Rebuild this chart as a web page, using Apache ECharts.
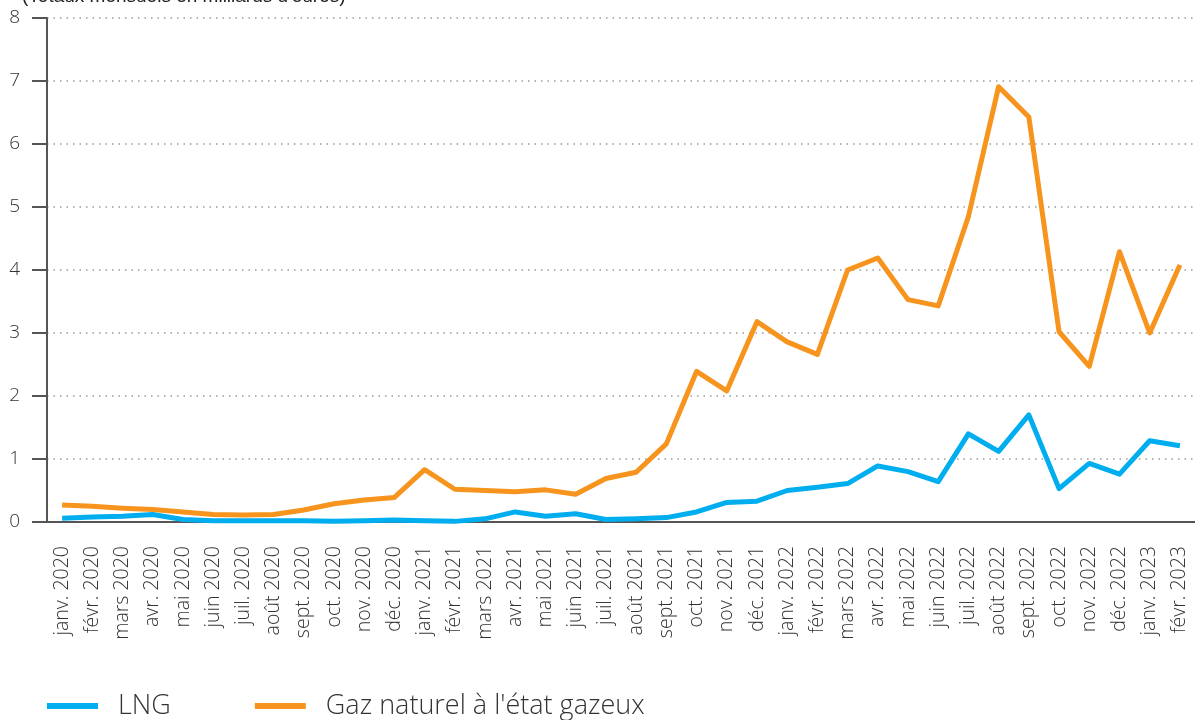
<!DOCTYPE html>
<html>
<head>
<meta charset="utf-8">
<script src="https://cdn.jsdelivr.net/npm/echarts@6/dist/echarts.min.js"></script>
<style>
html,body{margin:0;padding:0;background:#fff;}
#chart{width:1195px;height:720px;}
</style>
</head>
<body>
<div id="chart"></div>
<script>
const categories = ["janv. 2020","févr. 2020","mars 2020","avr. 2020","mai 2020","juin 2020","juil. 2020","août 2020","sept. 2020","oct. 2020","nov. 2020","déc. 2020",
"janv. 2021","févr. 2021","mars 2021","avr. 2021","mai 2021","juin 2021","juil. 2021","août 2021","sept. 2021","oct. 2021","nov. 2021","déc. 2021",
"janv. 2022","févr. 2022","mars 2022","avr. 2022","mai 2022","juin 2022","juil. 2022","août 2022","sept. 2022","oct. 2022","nov. 2022","déc. 2022",
"janv. 2023","févr. 2023"];
const lng = [0.06,0.08,0.09,0.12,0.04,0.02,0.02,0.02,0.02,0.01,0.02,0.03,
0.02,0.01,0.05,0.16,0.09,0.13,0.04,0.05,0.07,0.16,0.31,0.33,
0.50,0.55,0.61,0.89,0.80,0.64,1.40,1.12,1.70,0.53,0.93,0.76,
1.29,1.21];
const gaz = [0.27,0.25,0.22,0.20,0.16,0.12,0.11,0.12,0.19,0.29,0.35,0.39,
0.83,0.52,0.50,0.48,0.51,0.44,0.69,0.79,1.24,2.39,2.08,3.18,
2.86,2.66,4.00,4.19,3.53,3.43,4.85,6.91,6.43,3.02,2.47,4.29,
3.00,4.08];
const seriesNames = ["LNG","Gaz naturel à l'état gazeux"];
const unitLabel = "(Totaux mensuels en milliards d'euros)";
const FONT = "'Open Sans', sans-serif";

const chart = echarts.init(document.getElementById('chart'));
chart.setOption({
  animation:false,
  backgroundColor:'#fff',
  graphic:[{
    type:'text', left:22, top:-13,
    style:{text:unitLabel, fontSize:19, fontFamily:"'Liberation Sans', Arial, sans-serif", fill:'#222'}
  }],
  legend:{
    left:42, top:686, itemWidth:51, itemHeight:6, itemGap:84, icon:'rect',
    textStyle:{fontSize:27, lineHeight:30, color:'#333', fontFamily:FONT, fontWeight:300, padding:[0,0,0,15]},
    data:seriesNames
  },
  grid:{left:47, right:-4, top:18, bottom:198, containLabel:false},
  xAxis:{
    type:'category', data:categories, boundaryGap:true,
    axisLine:{lineStyle:{color:'#555', width:2}},
    axisTick:{inside:true, length:15, lineStyle:{color:'#555', width:2}, alignWithLabel:false},
    axisLabel:{rotate:90, fontSize:19.5, color:'#333', fontFamily:FONT, fontWeight:300, margin:24, interval:0}
  },
  yAxis:{
    type:'value', min:0, max:8, interval:1,
    axisLine:{show:true, lineStyle:{color:'#555', width:2}},
    axisTick:{show:true, length:15, lineStyle:{color:'#555', width:2}},
    axisLabel:{fontSize:19, color:'#333', fontFamily:FONT, fontWeight:300, margin:27},
    splitLine:{show:true, lineStyle:{color:'#999', width:1.5, type:[1.5,5]}}
  },
  series:[
    {name:seriesNames[0], type:'line', data:lng, symbol:'none', color:'#00aeef',
     lineStyle:{width:5, color:'#00aeef', join:'round'}, z:3},
    {name:seriesNames[1], type:'line', data:gaz, symbol:'none', color:'#f7941d',
     lineStyle:{width:5, color:'#f7941d', join:'round'}, z:2}
  ]
});
</script>
</body>
</html>
